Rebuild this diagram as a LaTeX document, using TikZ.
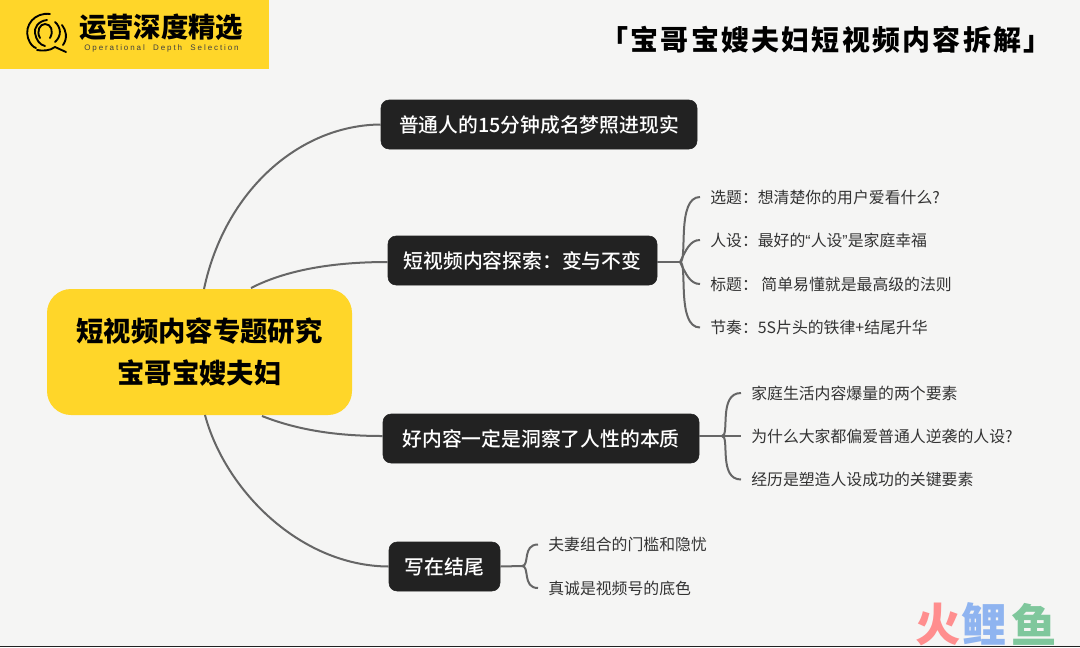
\documentclass[tikz,border=0pt]{standalone}
\usepackage{fontspec}
\setmainfont{Noto Sans CJK SC}
\newfontfamily\heavyfont{Noto Sans CJK SC Black}
\newfontfamily\mediumfont{Noto Sans CJK SC Medium}
\newfontfamily\headfont[LetterSpace=8]{Noto Sans CJK SC Black}
\newfontfamily\subfont[LetterSpace=24]{Liberation Sans}
\newfontfamily\quotefont{Liberation Sans}
\definecolor{paper}{HTML}{F5F5F4}
\definecolor{mainyellow}{HTML}{FFD629}
\definecolor{boxblack}{HTML}{222222}
\definecolor{linegray}{HTML}{666666}
\definecolor{leafgray}{HTML}{333333}
\definecolor{fishred}{HTML}{FF8E8E}
\definecolor{fishblue}{HTML}{8FB4F0}
\definecolor{fishgreen}{HTML}{7FC79C}
\tikzset{>=latex}
\usetikzlibrary{positioning}
\tikzset{
    branch/.style={draw=boxblack,fill=boxblack,rounded corners=6pt,text=white,font=\mediumfont\fontsize{14.85pt}{16pt}\selectfont,minimum height=36.75pt,inner sep=0pt},
    leaf/.style={anchor=west,text=leafgray,inner sep=0pt,font=\fontsize{11.9pt}{14pt}\selectfont},
    fish/.style={inner sep=0pt,font=\heavyfont\fontsize{34pt}{36pt}\selectfont},
    link/.style={draw=linegray,line width=1.5pt},
    leaflink/.style={link,shorten >=7.5pt},
    logoline/.style={draw=black,line width=1.4pt,line cap=round}
}
\begin{document}
\begin{tikzpicture}[x=0.75pt,y=-0.75pt]
                \useasboundingbox (0,0) rectangle (1080,647);
                \fill[paper] (0,0) rectangle (1080,647);
                \fill[boxblack] (0,645.5) rectangle (1080,647);
                % logo
                \fill[mainyellow] (0,0) rectangle (269,69);
                \draw[logoline] (50,14) .. controls (35,12) and (24,25) .. (28,38) .. controls (30,44) and (33,47) .. (36,48);
                \draw[logoline] (62,25) .. controls (66,30) and (68,38) .. (63,45);
                \draw[logoline] (37,50) .. controls (42,51) and (50,51) .. (55,47) -- (66,52);
                \draw[logoline] (47,20) .. controls (38,21) and (34,28) .. (35,33) .. controls (36,40) and (40,45) .. (45,46);
                \draw[logoline] (55,22) .. controls (61,27) and (62,36) .. (55,42);
                \draw[logoline] (40,38) .. controls (36,31) and (40,24) .. (45,24) .. controls (51,24) and (54,31) .. (50,38);
                \node[anchor=center,inner sep=0pt,font=\heavyfont\fontsize{20.5pt}{22pt}\selectfont] (logotext) at (161,27) {运营深度精选};
                \node[anchor=center,inner sep=0pt,text=black!75,font=\subfont\fontsize{6pt}{8pt}\selectfont] (logosub) at (161.5,48.5) {Operational\ \ Depth\ \ Selection};
                % title
                \node[anchor=center,inner sep=0pt,font=\headfont\fontsize{21pt}{23pt}\selectfont] (title) at (826,40) {「宝哥宝嫂夫妇短视频内容拆解」};
                % centre and branches
                \node[fill=mainyellow,rounded corners=18pt,minimum width=228.75pt,minimum height=94.5pt,align=center,inner sep=0pt,font=\heavyfont\fontsize{20.5pt}{32pt}\selectfont] (root) at (199.5,352) {短视频内容专题研究\\宝哥宝嫂夫妇};
                \node[branch,minimum width=237pt] (real) at (539,124.5) {普通人的15分钟成名梦照进现实};
                \node[branch,minimum width=201.75pt] (explore) at (522.5,260.5) {短视频内容探索：变与不变};
                \node[branch,minimum width=237pt] (nature) at (541,438.5) {好内容一定是洞察了人性的本质};
                \node[branch,minimum width=83.25pt] (ending) at (444.5,566.5) {写在结尾};
                % leaves
                \node[leaf] (topic) at (710,197) {选题：想清楚你的用户爱看什么?};
                \node[leaf] (persona) at (710,240) {人设：最好的{\quotefont “}人设{\quotefont ”}是家庭幸福};
                \node[leaf] (headline) at (710,284) {标题：\ 简单易懂就是最高级的法则};
                \node[leaf] (rhythm) at (710,327.5) {节奏：5S片头的铁律+结尾升华};
                \node[leaf] (factors) at (751,393) {家庭生活内容爆量的两个要素};
                \node[leaf] (why) at (751,436) {为什么大家都偏爱普通人逆袭的人设?};
                \node[leaf] (history) at (751,479.5) {经历是塑造人设成功的关键要素};
                \node[leaf] (couple) at (548,544.5) {夫妻组合的门槛和隐忧};
                \node[leaf] (honest) at (548,588) {真诚是视频号的底色};
                % watermark
                \node[fish,text=fishred] (huo) at (938,624) {火};
                \node[fish,text=fishblue] (li) at (984,624) {鲤};
                \node[fish,text=fishgreen] (yu) at (1034,624) {鱼};
                % free ends and forks
                \coordinate (rootreal) at (204,289);
                \coordinate (rootexplore) at (251,288);
                \coordinate (rootnature) at (262,416);
                \coordinate (rootending) at (205,415);
                \coordinate (forka) at (680,262);
                \coordinate (forkb) at (722,436);
                \coordinate (forkc) at (522,566);
                % links
                \draw[link] (rootreal) .. controls (225,190) and (300,125) .. (real.west);
                \draw[link] (rootexplore) .. controls (290,268) and (340,262) .. (explore.west |- forka);
                \draw[link] (rootnature) .. controls (300,431) and (340,436) .. (nature.west |- forkb);
                \draw[link] (rootending) .. controls (225,490) and (300,566) .. (ending.west);
                \draw[link] (explore.east |- forka) -- (forka);
                \draw[leaflink] (forka) .. controls (688,262) and (676,197) .. (topic.west);
                \draw[leaflink] (forka) .. controls (686,250) and (690,240) .. (persona.west);
                \draw[leaflink] (forka) .. controls (686,274) and (690,284) .. (headline.west);
                \draw[leaflink] (forka) .. controls (688,262) and (676,327.5) .. (rhythm.west);
                \draw[leaflink] (nature.east |- forkb) -- (why.west);
                \draw[leaflink] (forkb) .. controls (730,436) and (718,393) .. (factors.west);
                \draw[leaflink] (forkb) .. controls (730,436) and (718,479.5) .. (history.west);
                \draw[link] (ending.east) -- (forkc);
                \draw[leaflink] (forkc) .. controls (530,566) and (522,544.5) .. (couple.west);
                \draw[leaflink] (forkc) .. controls (530,566) and (522,588) .. (honest.west);
            \end{tikzpicture}
\end{document}
